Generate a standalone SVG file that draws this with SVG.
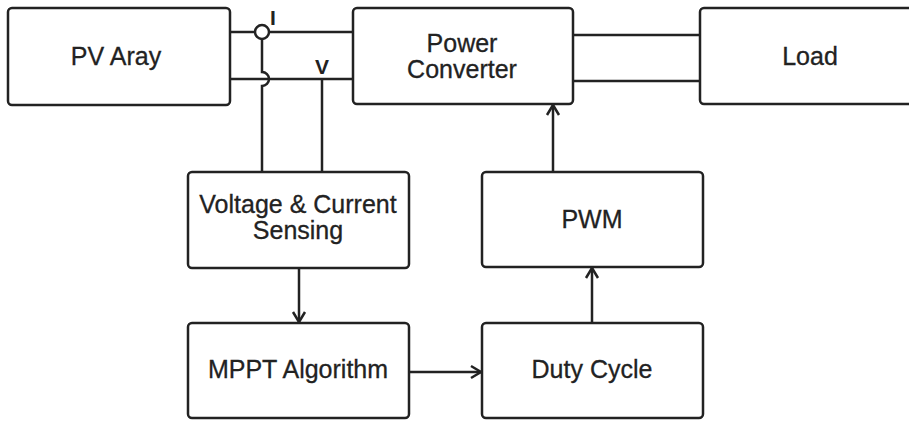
<svg xmlns="http://www.w3.org/2000/svg" width="909" height="421" viewBox="0 0 909 421">
<style>
.box{fill:#fff;stroke:#222;stroke-width:2.5}
.t{font-family:"Liberation Sans",Arial,sans-serif;font-size:25px;fill:#222;stroke:#222;stroke-width:0.3;text-anchor:middle}
.lb{font-family:"Liberation Sans",Arial,sans-serif;font-size:21px;font-weight:bold;fill:#222}
.w{fill:none;stroke:#222;stroke-width:2.5}
</style>
<defs>
<marker id="ah" markerWidth="16" markerHeight="16" refX="12" refY="8" orient="auto" markerUnits="userSpaceOnUse">
<path d="M2,2 L12,8 L2,14" fill="none" stroke="#222" stroke-width="2.5"/>
</marker>
</defs>
<rect width="909" height="421" fill="#fff"/>
<g id="connectors">
<line class="w" x1="230" y1="32" x2="255" y2="32"/>
<line class="w" x1="269" y1="32" x2="353" y2="32"/>
<circle class="w" cx="262" cy="32" r="7"/>
<line class="w" x1="230" y1="79" x2="353" y2="79"/>
<path class="w" d="M262,39 L262,72 A7,7 0 0 1 262,86 L262,172"/>
<line class="w" x1="322" y1="79" x2="322" y2="172"/>
<line class="w" x1="573" y1="35" x2="700" y2="35"/>
<line class="w" x1="573" y1="81" x2="700" y2="81"/>
<line class="w" x1="299" y1="268" x2="299" y2="322" marker-end="url(#ah)"/>
<line class="w" x1="409" y1="372" x2="481" y2="372" marker-end="url(#ah)"/>
<line class="w" x1="592" y1="323" x2="592" y2="268" marker-end="url(#ah)"/>
<line class="w" x1="553" y1="172" x2="553" y2="105" marker-end="url(#ah)"/>
<text class="lb" x="270" y="25">I</text>
<text class="lb" x="315" y="74">V</text>
</g>
<g id="pv">
<rect class="box" x="8" y="8" width="222" height="97" rx="4"/>
<text class="t" x="116" y="65">PV Aray</text>
</g>
<g id="converter">
<rect class="box" x="353" y="8" width="220" height="96" rx="4"/>
<text class="t" x="462" y="52">Power</text>
<text class="t" x="462" y="78">Converter</text>
</g>
<g id="load">
<rect class="box" x="700" y="8" width="220" height="96" rx="4"/>
<text class="t" x="810" y="65">Load</text>
</g>
<g id="sensing">
<rect class="box" x="188" y="172" width="221" height="96" rx="4"/>
<text class="t" x="298" y="213">Voltage &amp; Current</text>
<text class="t" x="298" y="239">Sensing</text>
</g>
<g id="mppt">
<rect class="box" x="188" y="323" width="221" height="95" rx="4"/>
<text class="t" x="298" y="378">MPPT Algorithm</text>
</g>
<g id="pwm">
<rect class="box" x="482" y="172" width="221" height="95" rx="4"/>
<text class="t" x="592" y="228">PWM</text>
</g>
<g id="duty">
<rect class="box" x="482" y="323" width="221" height="95" rx="4"/>
<text class="t" x="592" y="378">Duty Cycle</text>
</g>
</svg>
